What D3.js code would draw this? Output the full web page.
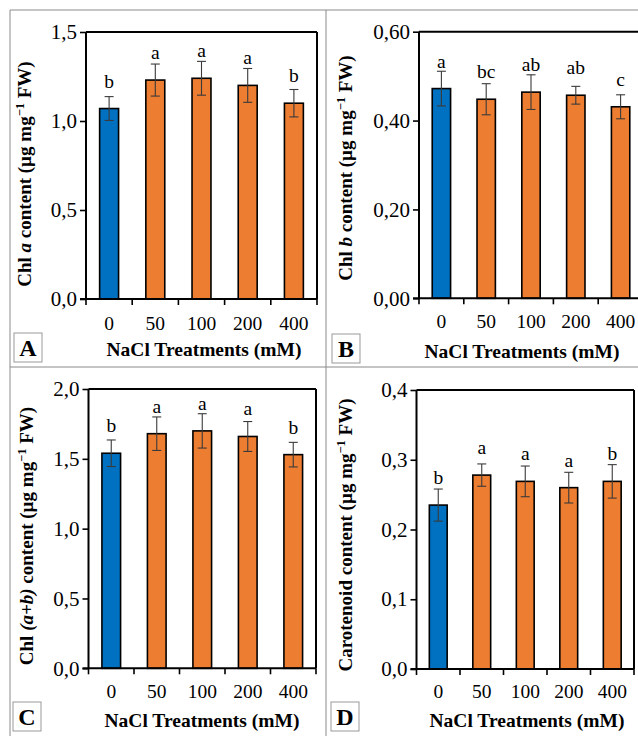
<!DOCTYPE html>
<html>
<head>
<meta charset="utf-8">
<script src="https://cdnjs.cloudflare.com/ajax/libs/d3/7.8.5/d3.min.js"></script>
<style>
  body { margin: 0; background: #fff; }
  svg { display: block; font-family: "Liberation Serif", "Times New Roman", serif; }
</style>
</head>
<body>
<svg id="fig" width="638" height="736"></svg>
<script>
// treatments on the x axis
var treatments = ["0", "50", "100", "200", "400"]

// A - chlorophyll a
var chlA = [1.07, 1.23, 1.24, 1.20, 1.10]
var chlAErr = [0.067, 0.09, 0.095, 0.095, 0.077]
var chlALetters = ["b", "a", "a", "a", "b"]
var chlATicks = [0, 0.5, 1.0, 1.5]

// B - chlorophyll b
var chlB = [0.472, 0.448, 0.464, 0.457, 0.431]
var chlBErr = [0.039, 0.035, 0.039, 0.020, 0.027]
var chlBLetters = ["a", "bc", "ab", "ab", "c"]
var chlBTicks = [0, 0.2, 0.4, 0.6]

// C - chlorophyll a+b
var chlAB = [1.54, 1.68, 1.70, 1.66, 1.53]
var chlABErr = [0.095, 0.12, 0.123, 0.107, 0.088]
var chlABLetters = ["b", "a", "a", "a", "b"]
var chlABTicks = [0, 0.5, 1.0, 1.5, 2.0]

// D - carotenoids
var carot = [0.235, 0.278, 0.269, 0.260, 0.269]
var carotErr = [0.023, 0.016, 0.022, 0.022, 0.024]
var carotLetters = ["b", "a", "a", "a", "b"]
var carotTicks = [0, 0.1, 0.2, 0.3, 0.4]

var blue = "#0070C0", orange = "#ED7D31"
var svg = d3.select("#fig")

// grey panel grid
var grid = "#8a8a8a"
svg.append("line").attr("x1", 10).attr("x2", 10).attr("y1", 10).attr("y2", 736).attr("stroke", grid)
svg.append("line").attr("x1", 326).attr("x2", 326).attr("y1", 10).attr("y2", 736).attr("stroke", grid)
svg.append("line").attr("x1", 10).attr("x2", 638).attr("y1", 10).attr("y2", 10).attr("stroke", grid)
svg.append("line").attr("x1", 10).attr("x2", 638).attr("y1", 367).attr("y2", 367).attr("stroke", grid)

var panels = [
  {tag: "A", vals: chlA, err: chlAErr, letters: chlALetters, ticks: chlATicks, dec: 1,
   left: 86, right: 317, top: 32, bottom: 299, ylx: 24, yly: 174, xlx: 204, xly: 356, tly: 330,
   box: [14, 333], pre: "Chl ", it: "a", post: " content (µg mg"},
  {tag: "B", vals: chlB, err: chlBErr, letters: chlBLetters, ticks: chlBTicks, dec: 2,
   left: 419, right: 643, top: 31.7, bottom: 298.3, ylx: 345, yly: 168, xlx: 522, xly: 358, tly: 328,
   box: [332, 334], pre: "Chl ", it: "b", post: " content (µg mg"},
  {tag: "C", vals: chlAB, err: chlABErr, letters: chlABLetters, ticks: chlABTicks, dec: 1,
   left: 88.5, right: 316, top: 389, bottom: 668.3, ylx: 26.5, yly: 536, xlx: 202, xly: 726.7, tly: 698,
   box: [13, 702], pre: "Chl ", it: "(a+b)", post: " content (µg mg"},
  {tag: "D", vals: carot, err: carotErr, letters: carotLetters, ticks: carotTicks, dec: 1,
   left: 416.5, right: 634, top: 390, bottom: 669, ylx: 345, yly: 535, xlx: 527, xly: 726.7, tly: 698,
   box: [331, 702], pre: "Carotenoid content (µg mg", it: null, post: ""}
]

panels.forEach(function(p) {
  var g = svg.append("g")
  var x = d3.scaleBand().domain(treatments).range([p.left, p.right]).paddingInner(0.59).paddingOuter(0.295)
  var y = d3.scaleLinear().domain([0, d3.max(p.ticks)]).range([p.bottom, p.top])
  var fmt = function(v) { return d3.format("." + p.dec + "f")(v).replace(".", ",") }

  // bars
  g.selectAll("rect.bar").data(p.vals).enter().append("rect")
    .attr("x", function(d, i) { return x(treatments[i]) })
    .attr("width", x.bandwidth())
    .attr("y", function(d) { return y(d) })
    .attr("height", function(d) { return y(0) - y(d) })
    .attr("fill", function(d, i) { return i == 0 ? blue : orange })
    .attr("stroke", "#000").attr("stroke-width", 1.6)

  // error bars
  var cx = function(i) { return x(treatments[i]) + x.bandwidth() / 2 }
  var eb = g.selectAll("g.err").data(p.vals).enter().append("g")
    .attr("stroke", "#3a3a3a").attr("stroke-width", 1.1)
  eb.append("line").attr("x1", function(d, i) { return cx(i) }).attr("x2", function(d, i) { return cx(i) })
    .attr("y1", function(d, i) { return y(d + p.err[i]) }).attr("y2", function(d, i) { return y(d - p.err[i]) })
  eb.append("line").attr("x1", function(d, i) { return cx(i) - 4.5 }).attr("x2", function(d, i) { return cx(i) + 4.5 })
    .attr("y1", function(d, i) { return y(d + p.err[i]) }).attr("y2", function(d, i) { return y(d + p.err[i]) })
  eb.append("line").attr("x1", function(d, i) { return cx(i) - 4.5 }).attr("x2", function(d, i) { return cx(i) + 4.5 })
    .attr("y1", function(d, i) { return y(d - p.err[i]) }).attr("y2", function(d, i) { return y(d - p.err[i]) })

  // significance letters
  g.selectAll("text.sig").data(p.vals).enter().append("text")
    .attr("x", function(d, i) { return cx(i) })
    .attr("y", function(d) { return y(d) - 21 })
    .attr("text-anchor", "middle").attr("font-size", 19.5)
    .text(function(d, i) { return p.letters[i] })

  // frame top / right
  g.append("line").attr("x1", p.left).attr("x2", p.right).attr("y1", p.top).attr("y2", p.top)
    .attr("stroke", "#000").attr("stroke-width", 2)
  g.append("line").attr("x1", p.right).attr("x2", p.right).attr("y1", p.top).attr("y2", p.bottom)
    .attr("stroke", "#000").attr("stroke-width", 2)

  // y axis
  var ya = g.append("g").attr("transform", "translate(" + p.left + ",0)")
    .call(d3.axisLeft(y).tickValues(p.ticks).tickSize(6).tickPadding(3).tickFormat(fmt))
  ya.select(".domain").attr("stroke-width", 2).attr("d", "M0," + p.top + "V" + p.bottom)
  ya.selectAll(".tick line").attr("stroke-width", 1.6)
  ya.selectAll(".tick text").attr("font-size", 21).attr("font-family", "Liberation Serif").attr("fill", "#000")

  // x axis: ticks between categories
  var step = x.step()
  var bounds = d3.range(treatments.length + 1).map(function(i) { return p.left + i * step })
  g.append("line").attr("x1", p.left - 6).attr("x2", p.right).attr("y1", p.bottom).attr("y2", p.bottom)
    .attr("stroke", "#000").attr("stroke-width", 2)
  g.selectAll("line.xt").data(bounds).enter().append("line")
    .attr("x1", function(d) { return d }).attr("x2", function(d) { return d })
    .attr("y1", p.bottom).attr("y2", p.bottom + 6)
    .attr("stroke", "#000").attr("stroke-width", 1.6)
  g.selectAll("text.xl").data(treatments).enter().append("text")
    .attr("x", function(d) { return x(d) + x.bandwidth() / 2 })
    .attr("y", p.tly).attr("text-anchor", "middle").attr("font-size", 19.5)
    .text(function(d) { return d })

  // x title
  g.append("text").attr("x", p.xlx).attr("y", p.xly).attr("text-anchor", "middle")
    .attr("font-size", 19.5).attr("font-weight", "bold").text("NaCl Treatments (mM)")

  // y title
  var yt = g.append("text").attr("transform", "translate(" + p.ylx + "," + p.yly + ") rotate(-90)")
    .attr("text-anchor", "middle").attr("font-size", 19).attr("font-weight", "bold").attr("dy", "0.35em")
  yt.append("tspan").text(p.pre)
  if (p.it) {
    yt.append("tspan").attr("font-style", "italic").text(p.it)
    yt.append("tspan").text(p.post)
  }
  yt.append("tspan").attr("font-size", 12.5).attr("dy", -7).text("−1")
  yt.append("tspan").attr("dy", 7).text(" FW)")

  // panel letter box
  g.append("rect").attr("x", p.box[0]).attr("y", p.box[1]).attr("width", 28).attr("height", 29)
    .attr("fill", "#fff").attr("stroke", "#999").attr("stroke-width", 1)
  g.append("text").attr("x", p.box[0] + 14).attr("y", p.box[1] + 23).attr("text-anchor", "middle")
    .attr("font-size", 24).attr("font-weight", "bold").text(p.tag)
})
</script>
</body>
</html>
